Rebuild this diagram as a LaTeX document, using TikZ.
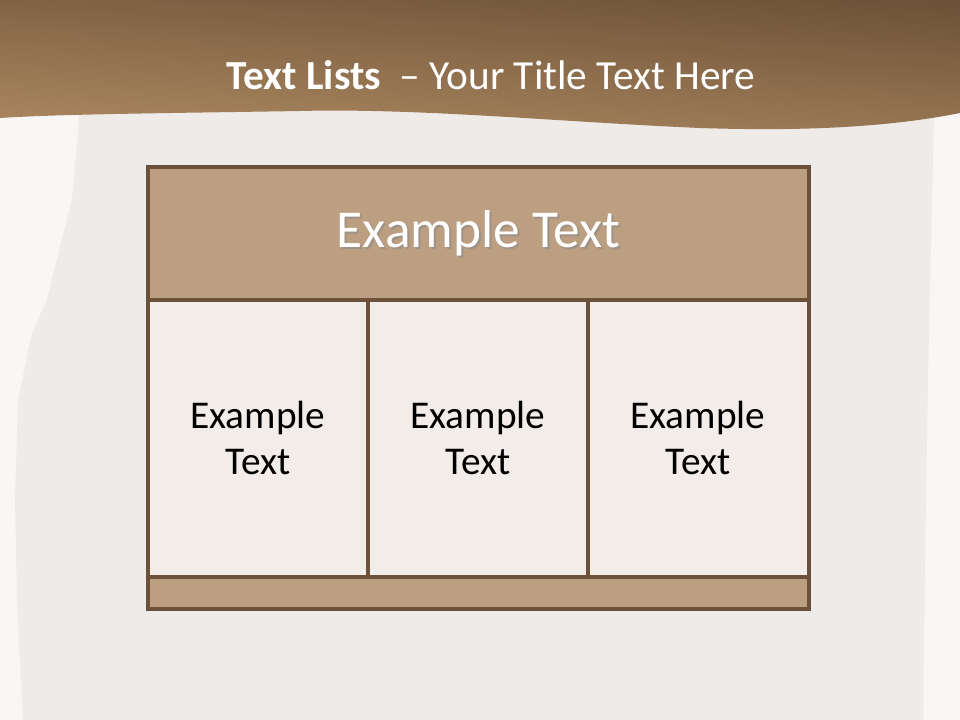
\documentclass[tikz,border=0pt]{standalone}
\usepackage{fontspec}
\setmainfont{Carlito}
\usetikzlibrary{calc}
\definecolor{bgwhite}{HTML}{F8F7F5}
\definecolor{paper}{HTML}{EEEBE8}
\definecolor{bandtop}{HTML}{6E5338}
\definecolor{bandbot}{HTML}{AB8760}
\definecolor{frame}{HTML}{6B5139}
\definecolor{headfill}{HTML}{BC9E80}
\definecolor{cellfill}{HTML}{F2EDE8}
\tikzset{
  cellbox/.style={draw=frame, line width=2.6pt, fill=cellfill},
  headbox/.style={draw=frame, line width=2.6pt, fill=headfill},
  celltext/.style={font=\fontsize{29.5}{34}\selectfont, text=black, align=center},
  headtext/.style={font=\fontsize{40}{46}\selectfont, text=white},
}
\begin{document}
\begin{tikzpicture}[x=0.75pt,y=-0.75pt]
\useasboundingbox (0,0) rectangle (960,720);
\fill[bgwhite] (0,0) rectangle (960,720);
% paper sheet
\fill[paper] (79,110) -- (78,133) -- (72,200) -- (55,267) -- (47,300) -- (32,333) -- (18,400)
  -- (15,500) -- (17,600) -- (23,720)
  -- (923,720) -- (925,560) -- (928,380) -- (932,200) -- (934,110) -- cycle;
% top band
\shade[top color=bandtop, bottom color=bandbot, shading angle=-4]
  (0,0) -- (960,0) -- (960,113) .. controls (900,125) and (820,132) .. (700,128)
  .. controls (560,122) and (420,108) .. (300,111) .. controls (180,113) and (60,114) .. (0,118) -- cycle;
\node[font=\fontsize{31}{35}\selectfont, text=white] (title) at (491,75)
  {\textbf{Text Lists}\ \ – Your Title Text Here};
% table
\path[headbox] (148,167) rectangle (809,300);
\node (head) at (478.5,233.5) {};
\node[headtext, text=black!45, opacity=0.6] at (480.5,235.5) {Example Text};
\node[headtext] (headlabel) at (head) {Example Text};
\path[cellbox] (148,300) rectangle (368,577);
\path[cellbox] (368,300) rectangle (588,577);
\path[cellbox] (588,300) rectangle (809,577);
\path[headbox] (148,577) rectangle (809,609);
\node[celltext] (c1) at (258,438) {Example\\Text};
\node[celltext] (c2) at (478,438) {Example\\Text};
\node[celltext] (c3) at (698,438) {Example\\Text};
\end{tikzpicture}
\end{document}
